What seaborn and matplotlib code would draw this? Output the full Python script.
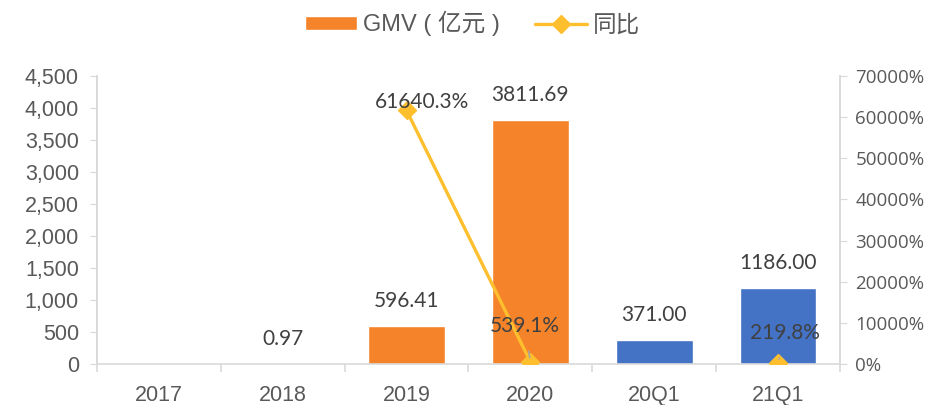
import numpy as np
import pandas as pd
import seaborn as sns
import matplotlib.pyplot as plt
from matplotlib.patches import Patch
from matplotlib.lines import Line2D
from matplotlib.ticker import FuncFormatter, FixedLocator

# dados
categorias = ['2017', '2018', '2019', '2020', '20Q1', '21Q1']
gmv = [np.nan, 0.97, 596.41, 3811.69, 371.00, 1186.00]
gmv_labels = ['', '0.97', '596.41', '3811.69', '371.00', '1186.00']
yoy = [np.nan, np.nan, 61640.3, 539.1, np.nan, 219.8]
yoy_labels = ['', '', '61640.3%', '539.1%', '', '219.8%']
yoy_offsets = [None, None, (11, 6), (-4, 26), None, (5, 22)]

laranja = '#F5832A'
azul = '#4472C4'
amarelo = '#FDBF2D'
cinza = '#D9D9D9'
texto = '#595959'
cores = [laranja, laranja, laranja, laranja, azul, azul]

sns.set_style('white')
plt.rcParams['font.family'] = ['Liberation Sans', 'Noto Sans CJK SC', 'DejaVu Sans']

df = pd.DataFrame({'cat': categorias, 'gmv': gmv})

fig = plt.figure(figsize=(9.45, 4.05), dpi=100)
ax = fig.add_axes([0.1026, 0.1012, 0.7863, 0.7111])

sns.barplot(data=df, x='cat', y='gmv', hue='cat', palette=cores, legend=False,
            width=0.62, ax=ax, saturation=1)
ax.set_xlim(-0.5, len(categorias) - 0.5)
ax.set_ylim(0, 4500)
ax.set_yticks(np.arange(0, 4501, 500))
ax.yaxis.set_major_formatter(FuncFormatter(lambda v, p: f'{v:,.0f}'))
ax.set_xlabel('')
ax.set_ylabel('')

# rótulos das barras
for i, (v, lab) in enumerate(zip(gmv, gmv_labels)):
    if lab:
        ax.annotate(lab, (i, v), xytext=(0, 18), textcoords='offset points',
                    ha='center', va='center', fontsize=15, color='#404040',
                    family='Lato')

# eixo secundário (同比)
ax2 = ax.twinx()
x_pos = np.arange(len(categorias))
ax2.plot(x_pos, yoy, color=amarelo, lw=2.4, marker='D', markersize=9,
         markerfacecolor=amarelo, markeredgecolor=amarelo, zorder=3)
ax2.set_ylim(0, 70000)
ax2.set_yticks(np.arange(0, 70001, 10000))
ax2.yaxis.set_major_formatter(FuncFormatter(lambda v, p: f'{int(v)}%'))

for i, (v, lab, off) in enumerate(zip(yoy, yoy_labels, yoy_offsets)):
    if lab:
        arrow = None
        if i > 2:
            arrow = dict(arrowstyle='-', color='#A6A6A6', lw=1.2, shrinkA=9, shrinkB=3)
        ax2.annotate(lab, (i, v), xytext=off, textcoords='offset points',
                     ha='center', va='center', fontsize=15, color='#404040',
                     family='Lato', arrowprops=arrow, zorder=4)

# estilo dos eixos
for a in (ax, ax2):
    a.spines['top'].set_visible(False)
    for s in ['left', 'right', 'bottom']:
        a.spines[s].set_color(cinza)
        a.spines[s].set_linewidth(1.2)
ax2.spines['bottom'].set_visible(False)

ax.tick_params(axis='y', direction='out', length=5, color=cinza, labelsize=15.5,
               labelcolor=texto, left=True, pad=8)
ax2.tick_params(axis='y', direction='out', length=5, color=cinza, labelsize=13.5,
                labelcolor=texto, right=True, pad=6)
for t in ax2.get_yticklabels():
    t.set_family('Open Sans')

ax.tick_params(axis='x', which='major', length=0, labelsize=15.5, labelcolor=texto, pad=15)
ax.xaxis.set_minor_locator(FixedLocator(np.arange(-0.5, len(categorias), 1)))
ax.tick_params(axis='x', which='minor', direction='out', length=6, color=cinza, width=1.2,
               bottom=True)

# legenda
handles = [Patch(facecolor=laranja, label='GMV ( 亿元 )'),
           Line2D([0], [0], color=amarelo, lw=2.4, marker='D', markersize=9,
                  label='同比')]
fig.legend(handles=handles, loc='upper center', bbox_to_anchor=(0.5, 1.025),
           ncol=2, frameon=False, fontsize=17, labelcolor=texto,
           handlelength=2.2, handleheight=0.55, columnspacing=1.5, handletextpad=0.25)

fig.savefig('out.png', dpi=100)
